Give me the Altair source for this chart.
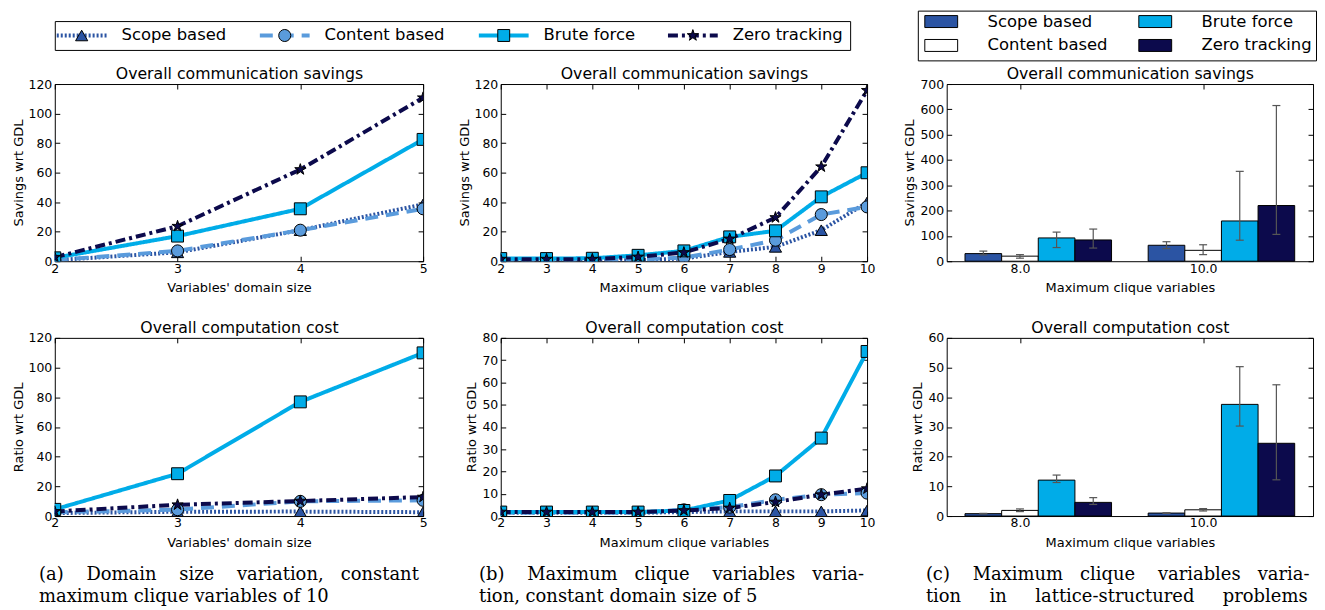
import altair as alt
import pandas as pd

# ---------------- data ----------------
series = ["Scope based", "Content based", "Brute force", "Zero tracking"]
line_colors = ["#2B54A3", "#5A9BDC", "#00ACE8", "#0C0A4C"]
bar_fills = ["#2B54A3", "#FFFFFF", "#00ACE8", "#0C0A4C"]
dashes = [[2, 2], [13, 8], [1, 0], [10, 4, 3, 4]]
STAR = ("M0,-1L0.225,-0.309L0.951,-0.309L0.363,0.118L0.588,0.809L0,0.382"
        "L-0.588,0.809L-0.363,0.118L-0.951,-0.309L-0.225,-0.309Z")
shapes = ["triangle-up", "circle", "square", STAR]
marker_sizes = [150, 140, 150, 230]
PATCH = "M-1,-0.3636L1,-0.3636L1,0.3636L-1,0.3636Z"

domain_sizes = [2, 3, 4, 5]
clique_vars = [2, 3, 4, 5, 6, 7, 8, 9, 10]
lattice_cliques = ["8.0", "10.0"]

# (a) domain size variation
a_comm_scope = [0.7, 6.0, 21.0, 38.5]
a_comm_content = [0.7, 7.0, 21.0, 35.5]
a_comm_brute = [2.3, 17.0, 35.5, 82.5]
a_comm_zero = [2.7, 23.7, 62.1, 110.7]

a_comp_scope = [2.0, 2.9, 3.0, 2.6]
a_comp_content = [2.5, 4.3, 9.9, 10.6]
a_comp_brute = [4.5, 28.5, 76.9, 109.9]
a_comp_zero = [3.1, 7.6, 10.1, 12.8]

# (b) maximum clique variables variation
b_comm_scope = [0.5, 0.5, 0.5, 0.8, 1.8, 6.3, 9.7, 21.0, 39.8]
b_comm_content = [0.7, 0.7, 0.7, 1.1, 2.5, 7.9, 14.2, 31.6, 36.8]
b_comm_brute = [1.8, 1.8, 2.0, 4.0, 7.0, 16.5, 20.6, 43.6, 59.9]
b_comm_zero = [1.4, 1.4, 1.4, 2.9, 5.9, 15.1, 29.6, 64.0, 115.7]

b_comp_scope = [1.5, 1.5, 1.5, 1.5, 1.8, 2.1, 2.1, 2.1, 2.5]
b_comp_content = [1.5, 1.5, 1.5, 1.5, 2.8, 4.0, 7.3, 9.6, 10.3]
b_comp_brute = [1.8, 1.8, 1.8, 1.8, 2.5, 7.0, 18.0, 35.0, 73.9]
b_comp_zero = [1.8, 1.8, 1.8, 1.8, 2.5, 3.6, 6.3, 9.6, 12.3]

# (c) lattice-structured problems: mean, lower and upper error
c_comm_mean = {"Scope based": [30, 63], "Content based": [20, 43],
               "Brute force": [92, 159], "Zero tracking": [84, 220]}
c_comm_lo = {"Scope based": [25, 50], "Content based": [12, 26],
             "Brute force": [54, 83], "Zero tracking": [52, 106]}
c_comm_hi = {"Scope based": [40, 77], "Content based": [26, 65],
             "Brute force": [115, 355], "Zero tracking": [127, 615]}

c_comp_mean = {"Scope based": [0.8, 1.0], "Content based": [1.9, 2.1],
               "Brute force": [12.1, 37.6], "Zero tracking": [4.6, 24.5]}
c_comp_lo = {"Scope based": [0.7, 0.9], "Content based": [1.5, 1.7],
             "Brute force": [11.3, 30.3], "Zero tracking": [3.9, 12.2]}
c_comp_hi = {"Scope based": [0.9, 1.1], "Content based": [2.4, 2.5],
             "Brute force": [13.8, 50.3], "Zero tracking": [6.2, 44.2]}

caption_words = [
    [["(a)", "Domain", "size", "variation,", "constant"],
     ["maximum", "clique", "variables", "of", "10"]],
    [["(b)", "Maximum", "clique", "variables", "varia-"],
     ["tion,", "constant", "domain", "size", "of", "5"]],
    [["(c)", "Maximum", "clique", "variables", "varia-"],
     ["tion", "in", "lattice-structured", "problems"]],
]
# extra (non-breaking) spaces per word gap, imitating the justified lines of the original
caption_stretch = [
    [[3, 3, 3, 2], [0, 0, 0, 0]],
    [[3, 2, 3, 2], [0, 0, 0, 0, 0]],
    [[3, 2, 3, 2], [4, 4, 4]],
]
T_COMM = "Overall communication savings"
T_COMP = "Overall computation cost"


def long_lines(xs, cols):
    rows = []
    for name, vals in zip(series, cols):
        for x, v in zip(xs, vals):
            rows.append({"series": name, "x": x, "value": v})
    return pd.DataFrame(rows)


def long_bars(means, los, his):
    rows = []
    for name in series:
        for c, m, lo, hi in zip(lattice_cliques, means[name], los[name], his[name]):
            rows.append({"series": name, "clique": c, "mean": m, "lo": lo, "hi": hi})
    return pd.DataFrame(rows)


def caption_lines(i):
    out = []
    for words, gaps in zip(caption_words[i], caption_stretch[i]):
        s = words[0]
        for w, g in zip(words[1:], gaps):
            s += " " + "\u00a0" * g + w
        out.append(s)
    return out


W_A, W_B, W_C = 370, 368, 368
H_TOP, H_BOT = 178, 179
TICK = 5
BAR_TICK_SHIFT = -18.4   # matplotlib ticks sit 1.5 bar widths into each group


def caption_title(lines, dx):
    return alt.TitleParams(lines, orient="bottom", anchor="start", frame="bounds", dx=dx,
                           offset=17, font="DejaVu Serif", fontSize=18, lineHeight=21.5,
                           fontWeight="normal", color="black", baseline="top")


def line_panel(df, xvals, ymax, ystep, xtitle, ytitle, title, width, height, caption=None):
    base = alt.Chart(df)
    xs = alt.Scale(domain=[xvals[0], xvals[-1]], nice=False, zero=False)
    ys = alt.Scale(domain=[0, ymax], nice=False)
    yvals = list(range(0, ymax + 1, ystep))
    lines = base.mark_line(strokeWidth=4, clip=True).encode(
        x=alt.X("x:Q", scale=xs, axis=alt.Axis(title=xtitle, orient="bottom", offset=-TICK,
                                               values=xvals, format="d")),
        y=alt.Y("value:Q", scale=ys, axis=alt.Axis(title=ytitle, orient="left", offset=-TICK,
                                                   values=yvals, format="d")),
        color=alt.Color("series:N", scale=alt.Scale(domain=series, range=line_colors), legend=None),
        strokeDash=alt.StrokeDash("series:N", scale=alt.Scale(domain=series, range=dashes), legend=None),
        order=alt.Order("x:Q"),
    )
    points = base.mark_point(filled=True, stroke="black", strokeWidth=1, opacity=1, clip=True).encode(
        x=alt.X("x:Q", scale=xs, axis=alt.Axis(orient="top", offset=-TICK, values=xvals,
                                               labels=False, title=title)),
        y=alt.Y("value:Q", scale=ys, axis=alt.Axis(orient="right", offset=-TICK, values=yvals,
                                                   labels=False, title=None)),
        fill=alt.Fill("series:N", scale=alt.Scale(domain=series, range=line_colors), legend=None),
        shape=alt.Shape("series:N", scale=alt.Scale(domain=series, range=shapes), legend=None),
        size=alt.Size("series:N", scale=alt.Scale(domain=series, range=marker_sizes), legend=None),
    )
    ch = alt.layer(lines, points).resolve_axis(x="independent", y="independent").properties(
        width=width, height=height)
    if caption is not None:
        ch = ch.properties(title=caption)
    return ch


def bar_panel(df, ymax, ystep, ytitle, title, width, height, caption=None):
    base = alt.Chart(df)
    xs = alt.Scale(domain=lattice_cliques, paddingInner=0.2, paddingOuter=0.1)
    xo = alt.XOffset("series:N", scale=alt.Scale(domain=series, paddingInner=0, paddingOuter=0))
    ys = alt.Scale(domain=[0, ymax], nice=False)
    yvals = list(range(0, ymax + 1, ystep))
    bars = base.mark_bar(stroke="black", strokeWidth=1, opacity=1).encode(
        x=alt.X("clique:N", scale=xs, sort=lattice_cliques,
                axis=alt.Axis(title="Maximum clique variables", orient="bottom", offset=-TICK,
                              tickOffset=BAR_TICK_SHIFT, labelAngle=0, ticks=True)),
        xOffset=xo,
        y=alt.Y("mean:Q", scale=ys, axis=alt.Axis(title=ytitle, orient="left", offset=-TICK,
                                                  values=yvals, format="d")),
        fill=alt.Fill("series:N", scale=alt.Scale(domain=series, range=bar_fills), legend=None),
    )
    err = base.mark_rule(color="#555555", strokeWidth=1.2).encode(
        x=alt.X("clique:N", scale=xs, sort=lattice_cliques, axis=None),
        xOffset=xo,
        y=alt.Y("lo:Q", scale=ys, axis=None),
        y2=alt.Y2("hi"),
    )
    caps = base.transform_fold(["lo", "hi"], as_=["end", "v"]).mark_tick(
        orient="horizontal", size=8, thickness=1.2, color="#555555", opacity=1).encode(
        x=alt.X("clique:N", scale=xs, sort=lattice_cliques,
                axis=alt.Axis(orient="top", offset=-TICK, tickOffset=BAR_TICK_SHIFT, labels=False,
                              title=title, ticks=True)),
        xOffset=xo,
        y=alt.Y("v:Q", scale=ys, axis=alt.Axis(orient="right", offset=-TICK, values=yvals,
                                               labels=False, title=None)),
    )
    ch = alt.layer(bars, err, caps).resolve_axis(x="independent", y="independent").properties(
        width=width, height=height)
    if caption is not None:
        ch = ch.properties(title=caption)
    return ch


a_top = line_panel(long_lines(domain_sizes, [a_comm_scope, a_comm_content, a_comm_brute, a_comm_zero]),
                   domain_sizes, 120, 20, "Variables' domain size", "Savings wrt GDL", T_COMM, W_A, H_TOP)
a_bot = line_panel(long_lines(domain_sizes, [a_comp_scope, a_comp_content, a_comp_brute, a_comp_zero]),
                   domain_sizes, 120, 20, "Variables' domain size", "Ratio wrt GDL", T_COMP, W_A, H_BOT,
                   caption_title(caption_lines(0), 27))
b_top = line_panel(long_lines(clique_vars, [b_comm_scope, b_comm_content, b_comm_brute, b_comm_zero]),
                   clique_vars, 120, 20, "Maximum clique variables", "Savings wrt GDL", T_COMM, W_B, H_TOP)
b_bot = line_panel(long_lines(clique_vars, [b_comp_scope, b_comp_content, b_comp_brute, b_comp_zero]),
                   clique_vars, 80, 10, "Maximum clique variables", "Ratio wrt GDL", T_COMP, W_B, H_BOT,
                   caption_title(caption_lines(1), 13))
c_top = bar_panel(long_bars(c_comm_mean, c_comm_lo, c_comm_hi), 700, 100, "Savings wrt GDL", T_COMM,
                  W_C, H_TOP)
c_bot = bar_panel(long_bars(c_comp_mean, c_comp_lo, c_comp_hi), 60, 10, "Ratio wrt GDL", T_COMP,
                  W_C, H_BOT, caption_title(caption_lines(2), 14))

# the bottom row's b and c panels have two-digit tick labels (narrower axes): wider gaps
top_row = alt.hconcat(alt.hconcat(a_top, b_top, spacing=29), c_top, spacing=27).resolve_scale(
    fill="independent")
bottom_row = alt.hconcat(alt.hconcat(a_bot, b_bot, spacing=37), c_bot, spacing=35).resolve_scale(
    fill="independent")
panels = alt.vconcat(top_row, bottom_row, spacing=24).resolve_scale(fill="independent")

# ---------------- legends ----------------
legend_df = pd.DataFrame({"series": series, "slot": list(range(len(series)))})
LEG_FONT = 16.5

# legend entry placement (pixel layout of the legend box, like matplotlib's column layout)
lx = alt.X("slot:Q", scale=alt.Scale(domain=[0, 1, 2, 3], range=[2, 206, 426, 616]), axis=None)
ly = alt.value(14.5)
leg_base = alt.Chart(legend_df)
leg_lines = leg_base.mark_rule(strokeWidth=4, x2Offset=50).encode(
    x=lx, x2=alt.X2("slot"), y=ly,
    color=alt.Color("series:N", scale=alt.Scale(domain=series, range=line_colors), legend=None),
    strokeDash=alt.StrokeDash("series:N", scale=alt.Scale(domain=series, range=dashes), legend=None),
)
leg_marks = leg_base.mark_point(filled=True, stroke="black", strokeWidth=1, opacity=1, xOffset=25).encode(
    x=lx, y=ly,
    fill=alt.Fill("series:N", scale=alt.Scale(domain=series, range=line_colors), legend=None),
    shape=alt.Shape("series:N", scale=alt.Scale(domain=series, range=shapes), legend=None),
    size=alt.Size("series:N", scale=alt.Scale(domain=series, range=marker_sizes), legend=None),
)
leg_text = leg_base.mark_text(align="left", baseline="middle", dx=65, fontSize=LEG_FONT,
                              font="DejaVu Sans", color="black").encode(x=lx, y=ly, text="series:N")
legend_lines = alt.layer(leg_lines, leg_marks, leg_text).properties(width=799, height=29)

bx = alt.X("col:Q", scale=alt.Scale(domain=[0, 1], range=[23.5, 238.5]), axis=None)
by = alt.Y("row:Q", scale=alt.Scale(domain=[0, 1], range=[11, 35]), axis=None)
legb_base = alt.Chart(legend_df).transform_calculate(col="floor(datum.slot / 2)", row="datum.slot % 2")
legb_patch = legb_base.mark_point(shape=PATCH, size=1089, filled=True, stroke="black",
                                  strokeWidth=1, opacity=1).encode(
    x=bx, y=by,
    fill=alt.Fill("series:N", scale=alt.Scale(domain=series, range=bar_fills), legend=None),
)
legb_text = legb_base.mark_text(align="left", baseline="middle", dx=46.5, fontSize=LEG_FONT,
                                font="DejaVu Sans", color="black").encode(x=bx, y=by, text="series:N")
legend_bars = alt.layer(legb_patch, legb_text).properties(width=400, height=50)

legend_row = alt.hconcat(legend_lines, legend_bars, spacing=66, center=True).resolve_scale(
    fill="independent")

chart = alt.vconcat(legend_row, panels, spacing=4).resolve_scale(fill="independent").properties(
    padding={"left": 3, "top": 0, "right": 0, "bottom": 0}
).configure(font="DejaVu Sans").configure_view(
    stroke="black", strokeWidth=1
).configure_axis(
    labelFont="DejaVu Sans", labelFontSize=12.5, labelColor="black",
    titleFont="DejaVu Sans", titleFontSize=13, titleFontWeight="normal", titleColor="black",
    tickColor="black", tickSize=TICK, tickWidth=1, domain=False, grid=False,
    labelFlush=False, labelOverlap=False,
).configure_axisBottom(labelPadding=1, titlePadding=7).configure_axisLeft(
    labelPadding=3, titlePadding=3
).configure_axisTop(titlePadding=2, titleFontSize=15.8).configure_title(
    font="DejaVu Sans", fontSize=15.8, fontWeight="normal", color="black")

chart.save("out.html", embed_options={"renderer": "svg", "actions": False})
